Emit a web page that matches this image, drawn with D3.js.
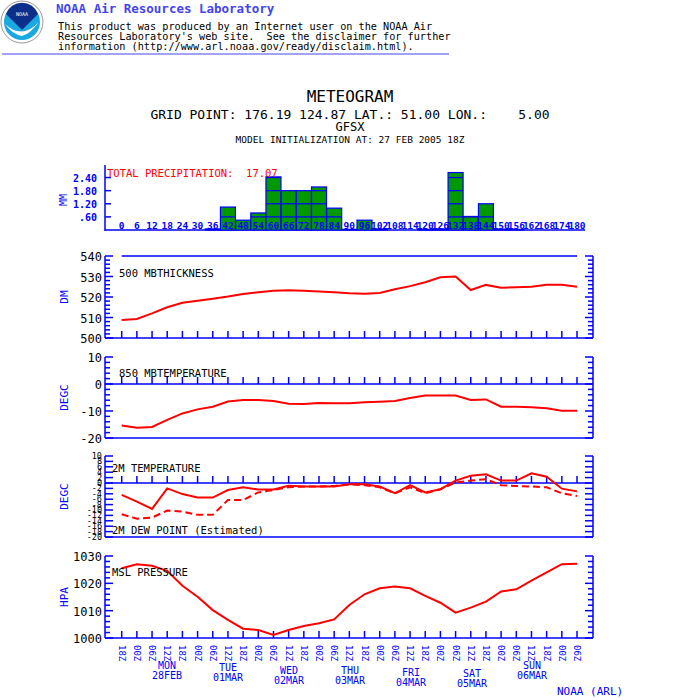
<!DOCTYPE html>
<html><head><meta charset="utf-8">
<script src="https://cdn.jsdelivr.net/npm/d3@7"></script>
<style>body{margin:0;background:#fff}text{font-family:"DejaVu Sans Mono",monospace}</style>
</head><body><svg id="c" width="700" height="700"></svg>
<script>
const hours = d3.range(0, 181, 6);
const precip = [0,0,0,0,0,0,0.05,1.05,0.45,0.78,2.43,1.8,1.8,1.97,1.0,0.03,0.45,0.05,0,0,0.03,0.05,2.63,0.62,1.2,0.04,0.03,0,0,0,0];
const thickness = [508.8,509.3,512,515,517.2,518.2,519.2,520.2,521.5,522.3,523,523.3,523,522.7,522.3,521.8,521.6,522,523.8,525.3,527.2,529.6,530,523.4,525.9,524.5,524.8,525,526,526,525];
const t850 = [-15.4,-16.2,-15.9,-13.3,-10.9,-9.4,-8.4,-6.5,-5.9,-5.9,-6.3,-7.3,-7.4,-7,-7.1,-7.1,-6.8,-6.6,-6.3,-5.2,-4.3,-4.3,-4.3,-5.9,-5.7,-8.4,-8.4,-8.6,-9,-9.9,-9.9];
const t2m = [-4.4,-6.9,-9.6,-2,-4.1,-5.4,-5.4,-2.6,-1.6,-2.4,-2.4,-1,-1.3,-1.3,-1.3,-0.5,-0.5,-1.3,-3.8,-0.8,-3.5,-2.3,0.9,2.7,3.2,0.9,0.9,3.6,2.3,-2.1,-3.1];
const dew = [-11.6,-13.2,-12.8,-10.2,-10.6,-11.8,-11.8,-6.3,-6.3,-3.5,-2.6,-1.6,-1.3,-1.3,-1.1,-0.5,-0.8,-1.6,-3.8,-1.6,-3.8,-2.3,0.2,0.9,1.4,-0.8,-1.1,-1.3,-1.6,-3.8,-4.8];
const mslp = [1025.5,1027,1026.4,1024.6,1019.1,1015.1,1010.2,1006.6,1003.4,1002.9,1001.1,1002.9,1004.4,1005.4,1006.8,1012.1,1016,1018.2,1018.8,1018.2,1015.4,1012.9,1009.3,1011.1,1013.3,1017,1017.8,1021,1024,1027,1027.2];
const timeLabels = ["18Z","00Z","06Z","12Z","18Z","00Z","06Z","12Z","18Z","00Z","06Z","12Z","18Z","00Z","06Z","12Z","18Z","00Z","06Z","12Z","18Z","00Z","06Z","12Z","18Z","00Z","06Z","12Z","18Z","00Z","06Z"];
const days = [["MON","28FEB",167,665],["TUE","01MAR",228,667],["WED","02MAR",289,670],["THU","03MAR",350,670],["FRI","04MAR",411,672],["SAT","05MAR",472,673],["SUN","06MAR",532,665]];

const svg = d3.select("#c");
const BLUE="#0000ff", RED="#ff0000";
const x = d3.scaleLinear().domain([0,180]).range([121.7,577]);

// header
const logo = svg.append("g");
logo.append("circle").attr("cx",22).attr("cy",22).attr("r",21).attr("fill","#fff").attr("stroke","#999");
logo.append("circle").attr("cx",22).attr("cy",22).attr("r",18).attr("fill","#1aa8e0");
logo.append("path").attr("d","M6,14 A17,17 0 0 1 38,14 L22,30 Z").attr("fill","#0b2f8a");
logo.append("path").attr("d","M5,24 Q22,40 39,22 Q30,34 22,36 Q12,34 5,24Z").attr("fill","#fff");
logo.append("text").attr("x",22).attr("y",16).attr("text-anchor","middle").attr("font-size",5).attr("fill","#fff").text("NOAA");
svg.append("text").attr("x",56).attr("y",13).attr("font-size",12.5).attr("font-weight","bold").attr("fill","#4444ee").text("NOAA Air Resources Laboratory");
["This product was produced by an Internet user on the NOAA Air","Resources Laboratory's web site.  See the disclaimer for further","information (http://www.arl.noaa.gov/ready/disclaim.html)."].forEach((t,i)=>
  svg.append("text").attr("x",58).attr("y",30+i*10).attr("font-size",10.2).attr("fill","#000").attr("xml:space","preserve").text(t));
svg.append("line").attr("x1",2).attr("x2",449).attr("y1",54).attr("y2",54).attr("stroke","#4444ee");

// titles
const tt=(t,y,s)=>svg.append("text").attr("x",350).attr("y",y).attr("text-anchor","middle").attr("font-size",s).attr("xml:space","preserve").text(t);
tt("METEOGRAM",102,16); tt("GRID POINT: 176.19 124.87 LAT.: 51.00 LON.:    5.00",119,13); tt("GFSX",131,12); tt("MODEL INITIALIZATION AT: 27 FEB 2005 18Z",143,9.5);

// precip panel
const yp = d3.scaleLinear().domain([0,2.7]).range([230,171]);
svg.append("line").attr("x1",105).attr("x2",105).attr("y1",165).attr("y2",231).attr("stroke",BLUE).attr("stroke-width",1.5);
svg.append("line").attr("x1",105).attr("x2",585).attr("y1",230).attr("y2",230).attr("stroke",BLUE).attr("stroke-width",1.5);
[0.6,1.2,1.8,2.4].forEach(v=>{
  svg.append("line").attr("x1",105).attr("x2",111).attr("y1",yp(v)).attr("y2",yp(v)).attr("stroke",BLUE).attr("stroke-width",1.5);
  svg.append("text").attr("x",97).attr("y",yp(v)+4).attr("text-anchor","end").attr("font-size",10).attr("font-weight","bold").attr("fill",BLUE).text(v.toFixed(2).replace(/^0/,""));
});
svg.append("text").attr("transform","translate(67,200) rotate(-90)").attr("text-anchor","middle").attr("font-size",10).attr("fill",BLUE).text("MM");
precip.forEach((v,i)=>{
  if(v<=0) return;
  const cx=x(hours[i]);
  svg.append("rect").attr("x",cx-7.5).attr("width",15).attr("y",yp(v)).attr("height",230-yp(v)).attr("fill","#009900").attr("stroke",BLUE).attr("stroke-width",1.2);
  [0.6,1.2,1.8,2.4].filter(l=>l<v).forEach(l=>svg.append("line").attr("x1",cx-7.5).attr("x2",cx+7.5).attr("y1",yp(l)).attr("y2",yp(l)).attr("stroke",BLUE).attr("stroke-width",1.2));
});
hours.forEach(h=>svg.append("text").attr("x",x(h)).attr("y",229).attr("text-anchor","middle").attr("font-size",9.5).attr("fill",BLUE).attr("font-weight","bold").text(h));
svg.append("text").attr("x",107).attr("y",177).attr("font-size",10.5).attr("fill",RED).attr("xml:space","preserve").text("TOTAL PRECIPITATION:  17.07");

// generic panel
function panel(o){
  const y=d3.scaleLinear().domain(o.dom).range([o.bot,o.top]);
  const g=svg.append("g");
  const ln=(x1,x2,y1,y2)=>g.append("line").attr("x1",x1).attr("x2",x2).attr("y1",y1).attr("y2",y2).attr("stroke",BLUE).attr("stroke-width",1.5);
  ln(105,105,o.top,o.bot); ln(593,593,o.top,o.bot); ln(105,593,o.bot,o.bot);
  if(o.topLine) ln(121.7,577,o.top,o.top);
  const ty=o.zero!==undefined?y(o.zero):o.bot;
  if(o.zero!==undefined) ln(105,593,ty,ty);
  hours.forEach(h=>{ln(x(h),x(h),ty,ty-7); if(o.zero!==undefined) ln(x(h),x(h),o.bot,o.bot);});
  d3.range(o.dom[0],o.dom[1]+0.01,o.minor).forEach(v=>{
    const maj=(v-o.dom[0])%o.major===0, L=maj?8:5;
    ln(105,105+L,y(v),y(v)); ln(593,593-L,y(v),y(v));
    if(maj||o.labelAll) g.append("text").attr("x",102).attr("y",y(v)+(o.labelAll?3:5)).attr("text-anchor","end").attr("font-size",o.labelAll?8.5:12).attr("fill","#000").text(v);
  });
  g.append("text").attr("transform",`translate(68,${(o.top+o.bot)/2}) rotate(-90)`).attr("text-anchor","middle").attr("font-size",11).attr("fill",BLUE).text(o.unit);
  o.series.forEach(s=>g.append("path").datum(s.v).attr("fill","none").attr("stroke",RED).attr("stroke-width",2).attr("stroke-dasharray",s.dash||null)
    .attr("d",d3.line().x((d,i)=>x(hours[i])).y(d=>y(d))));
  o.labels.forEach(l=>g.append("text").attr("x",l[1]).attr("y",l[2]).attr("font-size",10.5).attr("fill","#000").text(l[0]));
  return y;
}
panel({dom:[500,540],top:256,bot:338,minor:2,major:10,unit:"DM",topLine:true,series:[{v:thickness}],labels:[["500 MBTHICKNESS",119,277]]});
panel({dom:[-20,10],top:357,bot:438,minor:2,major:10,unit:"DEGC",zero:0,series:[{v:t850}],labels:[["850 MBTEMPERATURE",119,377]]});
panel({dom:[-20,10],top:456,bot:537,minor:2,major:2,labelAll:true,unit:"DEGC",zero:0,series:[{v:t2m},{v:dew,dash:"7,4"}],labels:[["2M TEMPERATURE",112,472],["2M DEW POINT (Estimated)",112,534]]});
panel({dom:[1000,1030],top:556,bot:638,minor:2,major:10,unit:"HPA",series:[{v:mslp}],labels:[["MSL PRESSURE",112,576]]});

// time axis labels
timeLabels.forEach((t,i)=>svg.append("text").attr("transform",`translate(${x(hours[i])-3},645) rotate(90)`).attr("font-size",9).attr("fill",BLUE).text(t));
days.forEach(d=>{
  svg.append("text").attr("x",d[2]).attr("y",d[3]+4).attr("text-anchor","middle").attr("font-size",10).attr("fill",BLUE).text(d[0]);
  svg.append("text").attr("x",d[2]).attr("y",d[3]+14).attr("text-anchor","middle").attr("font-size",10).attr("fill",BLUE).text(d[1]);
});
svg.append("text").attr("x",557).attr("y",695).attr("font-size",11).attr("fill",BLUE).text("NOAA (ARL)");
</script></body></html>
